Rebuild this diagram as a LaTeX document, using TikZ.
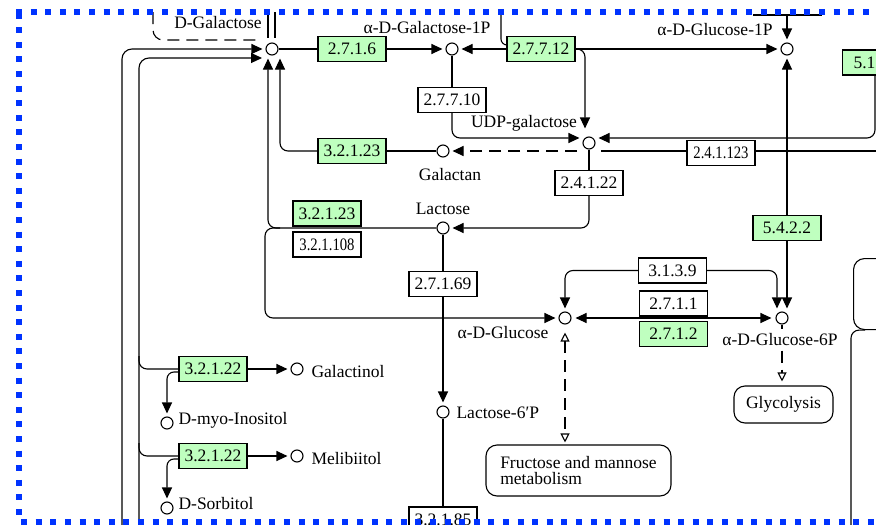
\documentclass[tikz,border=0pt]{standalone}
\usepackage{fontspec}
\setmainfont{Liberation Serif}
\newfontfamily\serre[FakeStretch=0.84]{Liberation Serif}
\usetikzlibrary{arrows.meta}
\definecolor{vertkegg}{RGB}{191,255,191}
\definecolor{bleucadre}{RGB}{0,51,255}

\begin{document}
\begin{tikzpicture}[x=1pt, y=-1pt, line width=1.1pt,
    cpd/.style={circle, draw, fill=white, minimum size=12pt, inner sep=0pt},
    enz/.style={draw, fill=white, minimum width=68pt, minimum height=25pt, inner sep=0pt, font=\fontsize{17.5}{16}\selectfont},
    enzv/.style={enz, fill=vertkegg},
    nom/.style={inner sep=0pt, font=\fontsize{17.5}{16}\selectfont},
    carte/.style={draw, fill=white, rounded corners=11pt, inner sep=0pt, font=\fontsize{17.5}{16}\selectfont},
    fl/.style={-{Triangle[length=11pt,width=10pt]}, shorten >=3pt},
    flo/.style={-{Triangle[open,length=9pt,width=9pt]}},
    tirets/.style={dash pattern=on 12pt off 7pt},
    cadre/.style={bleucadre, line width=6pt, dash pattern=on 6pt off 8.6pt}]
    \useasboundingbox (0,0) rectangle (876,525);

    % Composés
    \node[cpd] (gal) at (272,49) {};
    \node[cpd] (gal1p) at (452,49) {};
    \node[cpd] (glc1p) at (787,49) {};
    \node[cpd] (udpgal) at (589,143) {};
    \node[cpd] (galactan) at (443,151) {};
    \node[cpd] (lactose) at (443,228) {};
    \node[cpd] (lac6p) at (443,412) {};
    \node[cpd] (glc) at (565,318) {};
    \node[cpd] (glc6p) at (782,318) {};
    \node[cpd] (galactinol) at (297,369) {};
    \node[cpd] (inositol) at (167,423) {};
    \node[cpd] (melibiitol) at (297,456) {};
    \node[cpd] (sorbitol) at (167,508) {};

    % Noms des composés
    \node[nom, anchor=base] (tGal) at (218,28) {D-Galactose};
    \node[nom, anchor=base] (tGal1P) at (427,33) {α-D-Galactose-1P};
    \node[nom, anchor=base] (tGlc1P) at (715,35) {α-D-Glucose-1P};
    \node[nom, anchor=base] (tUDP) at (524,127) {UDP-galactose};
    \node[nom, anchor=base] (tGalactan) at (450,180) {Galactan};
    \node[nom, anchor=base] (tLac) at (443,214) {Lactose};
    \node[nom, anchor=base west] (tLac6P) at (456,418) {Lactose-6′P};
    \node[nom, anchor=base] (tGlc) at (503,338) {α-D-Glucose};
    \node[nom, anchor=base] (tGlc6P) at (780,345) {α-D-Glucose-6P};
    \node[nom, anchor=base west] (tGalactinol) at (311,377) {Galactinol};
    \node[nom, anchor=base west] (tInositol) at (178,424) {D-myo-Inositol};
    \node[nom, anchor=base west] (tMelibiitol) at (311,464) {Melibiitol};
    \node[nom, anchor=base west] (tSorbitol) at (178,509) {D-Sorbitol};

    % Enzymes
    \node[enzv] (e2716) at (352,49) {2.7.1.6};
    \node[enzv] (e27712) at (541,49) {2.7.7.12};
    \node[enz] (e27710) at (452,100) {2.7.7.10};
    \node[enzv] (e32123a) at (352,151) {3.2.1.23};
    \node[enz] (e241123) at (721,153) {\serre 2.4.1.123};
    \node[enz] (e24122) at (589,183) {2.4.1.22};
    \node[enzv] (e32123b) at (327,213.5) {3.2.1.23};
    \node[enz] (e321108) at (327,244.5) {\serre 3.2.1.108};
    \node[enzv, anchor=west, text width=46pt, align=left] (e51) at (842,62.5) {5.1};
    \node[enzv] (e5422) at (787,228) {5.4.2.2};
    \node[enz] (e27169) at (443,284) {2.7.1.69};
    \node[enz] (e3139) at (672.5,270.5) {3.1.3.9};
    \node[enz] (e2711) at (673.5,303.5) {2.7.1.1};
    \node[enzv] (e2712) at (673.5,334) {2.7.1.2};
    \node[enzv] (e32122a) at (213,369) {3.2.1.22};
    \node[enzv] (e32122b) at (213,456) {3.2.1.22};
    \node[enz] (e32185) at (443,519.5) {3.2.1.85};

    % Cartes
    \node[carte, minimum width=185pt, minimum height=51pt, align=left] (fru) at (578.5,470.5) {Fructose and mannose\\metabolism};
    \node[carte, minimum width=99pt, minimum height=37pt] (gly) at (783.5,404.5) {Glycolysis};
    \node[carte, anchor=north west, minimum width=80pt, minimum height=71pt] (carteD) at (853,258) {};

    % Bouts de traits libres
    \coordinate (tG1) at (153,12);
    \coordinate (tG2) at (258,40);
    \coordinate (dA1) at (268,12);
    \coordinate (dA2) at (268,38);
    \coordinate (dB1) at (275,12);
    \coordinate (dB2) at (275,38);
    \coordinate (h27712) at (501,12);
    \coordinate (hA) at (753,15);
    \coordinate (hB) at (822,15);
    \coordinate (hG1P) at (787,15);
    \coordinate (e51s) at (875,75);
    \coordinate (udpO) at (577,151);
    \coordinate (udpE) at (601,151);
    \coordinate (bordE) at (880,151);
    \coordinate (gA) at (122,530);
    \coordinate (gB) at (139,530);
    \coordinate (galW) at (262,58);
    \coordinate (lacG) at (280,228);
    \coordinate (coinL) at (265,318);
    \coordinate (br1) at (139,356);
    \coordinate (br2) at (139,443);
    \coordinate (bD) at (851,530);

    % Haut : D-Galactose et alpha-D-Galactose-1P
    \draw[tirets, rounded corners=10pt] (tG1) |- (tG2);
    \draw (dA1) -- (dA2);
    \draw (dB1) -- (dB2);
    \draw (gal) -- (e2716.west |- gal);
    \draw[fl] (e2716.east |- gal1p) -- (gal1p);
    \draw[fl] (e27712.west) -- (gal1p);
    \draw[fl] (e27712.east) -- (glc1p);
    \draw[rounded corners=6pt] (h27712) |- ([yshift=4pt]e27712.west);
    \draw (hA) -- (hB);
    \draw[fl] (hG1P) -- (glc1p);

    % UDP-galactose
    \draw (gal1p) -- (e27710);
    \draw[fl, rounded corners=8pt] (e27710.south) |- ([yshift=5pt]udpgal.west);
    \draw[fl, rounded corners=8pt, shorten >=8pt] (e27712.east) -| ([xshift=-4pt]udpgal.north);
    \draw[fl, rounded corners=8pt] (e51s) |- ([yshift=5pt]udpgal.east);
    \draw[fl, tirets] (udpO) -- (galactan);
    \draw (udpE) -- (e241123.west |- udpE);
    \draw (e241123.east |- udpE) -- (bordE);
    \draw (udpgal) -- (e24122);

    % Galactan et Lactose vers D-Galactose
    \draw (galactan) -- (e32123a);
    \draw[fl, rounded corners=8pt] (e32123a.west) -| ([xshift=8pt]gal.south);
    \draw[fl, rounded corners=8pt] (e24122.south) |- (lactose);
    \draw[fl, rounded corners=8pt] (lactose) -| ([xshift=-4pt]gal.south);
    \draw[fl, rounded corners=8pt] (lacG) -| (coinL) -- (glc);
    \draw (lactose) -- (e27169);
    \draw[fl] (e27169) -- (lac6p);
    \draw (lac6p) -- (e32185);

    % Grandes boucles de gauche
    \draw[fl, rounded corners=10pt] (gA) |- (gal);
    \draw[fl, rounded corners=10pt, shorten >=0pt] (gB) |- (galW);
    \draw[rounded corners=8pt] (br1) |- (e32122a.west);
    \draw[fl] (e32122a) -- (galactinol);
    \draw[fl, rounded corners=7pt] ([yshift=-3pt]e32122a.west) -| (inositol);
    \draw[rounded corners=8pt] (br2) |- (e32122b.west);
    \draw[fl] (e32122b) -- (melibiitol);
    \draw[fl, rounded corners=7pt] ([yshift=-3pt]e32122b.west) -| (sorbitol);

    % Glucose
    \draw[fl] (e5422) -- (glc1p);
    \draw[fl] (e5422) -- ([xshift=5pt]glc6p.north);
    \draw[fl, rounded corners=8pt] (e3139.west) -| (glc);
    \draw[fl, rounded corners=8pt] (e3139.east) -| ([xshift=-5pt]glc6p.north);
    \draw[{Triangle[length=11pt,width=10pt]}-{Triangle[length=11pt,width=10pt]}, shorten <=4pt, shorten >=4pt] (glc) -- (glc6p);
    \draw[tirets, {Triangle[open,length=9pt,width=9pt]}-{Triangle[open,length=9pt,width=9pt]}, shorten <=8pt, shorten >=2pt] (glc) -- (glc |- fru.north);
    \draw[shorten >=3pt] (glc6p) -- (tGlc6P.north -| glc6p);
    \draw[tirets, flo, shorten <=5pt, shorten >=4pt] (tGlc6P.south -| glc6p) -- (glc6p |- gly.north);
    \draw[rounded corners=8pt] (bD) |- ([xshift=12pt]carteD.south west);

    % Cadre pointillé
    \draw[cadre] (16,12) -- (880,12);
    \draw[cadre] (19,12.6) -- (19,521.5) -- (880,521.5);
\end{tikzpicture}
\end{document}
